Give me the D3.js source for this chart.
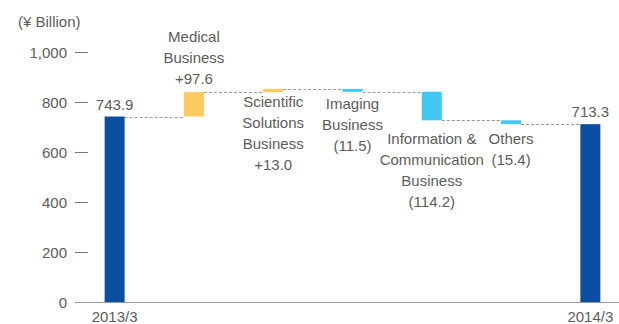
<!DOCTYPE html>
<html lang="en">
<head>
<meta charset="UTF-8">
<title>waterfall</title>
<script src="https://cdn.jsdelivr.net/npm/d3@7"></script>
<style>
  body { margin: 0; background: #fff; }
  text { font-family: "Liberation Sans", Arial, sans-serif; fill: #5c5c5c; font-size: 15px; }
</style>
</head>
<body>
<script>
// data
const categories = ["2013/3", "Medical", "Scientific", "Imaging", "Info", "Others", "2014/3"];
const changes = [743.9, 97.6, 13.0, -11.5, -114.2, -15.4, 713.3]; // first/last are totals
const isTotal = [true, false, false, false, false, false, true];
const labelLines = [
    [],
    ["Medical", "Business", "+97.6"],
    ["Scientific", "Solutions", "Business", "+13.0"],
    ["Imaging", "Business", "(11.5)"],
    ["Information &", "Communication", "Business", "(114.2)"],
    ["Others", "(15.4)"],
    []
];
const yTicks = [0, 200, 400, 600, 800, 1000];

const width = 619, height = 324;

const svg = d3.select("body").append("svg")
    .attr("width", width)
    .attr("height", height);

const y = d3.scaleLinear().domain([0, 1000]).range([302.5, 52.5]);
const x = d3.scalePoint().domain(categories).range([75, 630]).padding(0.5);
const barW = 20;

// running totals -> start/end of each bar
let run = 0;
const bars = categories.map((c, i) => {
    let y0, y1;
    if (isTotal[i]) { y0 = 0; y1 = changes[i]; run = changes[i]; }
    else { y0 = run; y1 = run + changes[i]; run = y1; }
    return { cat: c, y0, y1, total: isTotal[i], val: changes[i], i };
});

const color = d => d.total ? "#0c4ea0" : (d.val > 0 ? "#fec862" : "#40c7f4");

// y axis ticks (dash + label)
const ty = svg.append("g");
ty.selectAll("line").data(yTicks.filter(d => d > 0)).join("line")
    .attr("x1", 75).attr("x2", 88)
    .attr("y1", d => y(d)).attr("y2", d => y(d))
    .attr("stroke", "#777").attr("stroke-width", 1);
ty.selectAll("text").data(yTicks).join("text")
    .attr("x", 67).attr("y", d => y(d) + 5)
    .attr("text-anchor", "end")
    .text(d => d3.format(",")(d));

svg.append("text").attr("x", 18).attr("y", 27).text("(¥ Billion)");

// dashed connectors at running total level
const conn = svg.append("g");
bars.slice(0, -1).forEach((d, i) => {
    const next = bars[i + 1];
    const ly = Math.round(y(d.y1)) + 0.5;
    conn.append("line")
        .attr("x1", x(d.cat) + barW / 2).attr("x2", x(next.cat) - barW / 2)
        .attr("y1", ly).attr("y2", ly)
        .attr("stroke", "#999").attr("stroke-dasharray", "3,2");
});

// bars
svg.append("g").selectAll("rect").data(bars).join("rect")
    .attr("x", d => x(d.cat) - barW / 2)
    .attr("width", barW)
    .attr("y", d => y(Math.max(d.y0, d.y1)))
    .attr("height", d => Math.abs(y(d.y0) - y(d.y1)))
    .attr("fill", color);

// baseline
svg.append("line").attr("x1", 75).attr("x2", width)
    .attr("y1", y(0)).attr("y2", y(0))
    .attr("stroke", "#999").attr("stroke-width", 1);

// total values
svg.append("g").selectAll("text").data(bars.filter(d => d.total)).join("text")
    .attr("x", d => x(d.cat))
    .attr("y", d => y(d.y1) - 7)
    .attr("text-anchor", "middle")
    .text(d => d3.format(".1f")(d.val));

// x labels
svg.append("g").selectAll("text").data(bars.filter(d => d.total)).join("text")
    .attr("x", d => x(d.cat))
    .attr("y", 322)
    .attr("text-anchor", "middle")
    .text(d => d.cat);

// segment labels: baseline of first line in each block
const labelTop = [0, 42, 107, 109, 144, 144, 0];
const lineH = 21;
bars.forEach((d, i) => {
    labelLines[i].forEach((t, k) => {
        svg.append("text")
            .attr("x", x(d.cat))
            .attr("y", labelTop[i] + k * lineH)
            .attr("text-anchor", "middle")
            .text(t);
    });
});
</script>
</body>
</html>
